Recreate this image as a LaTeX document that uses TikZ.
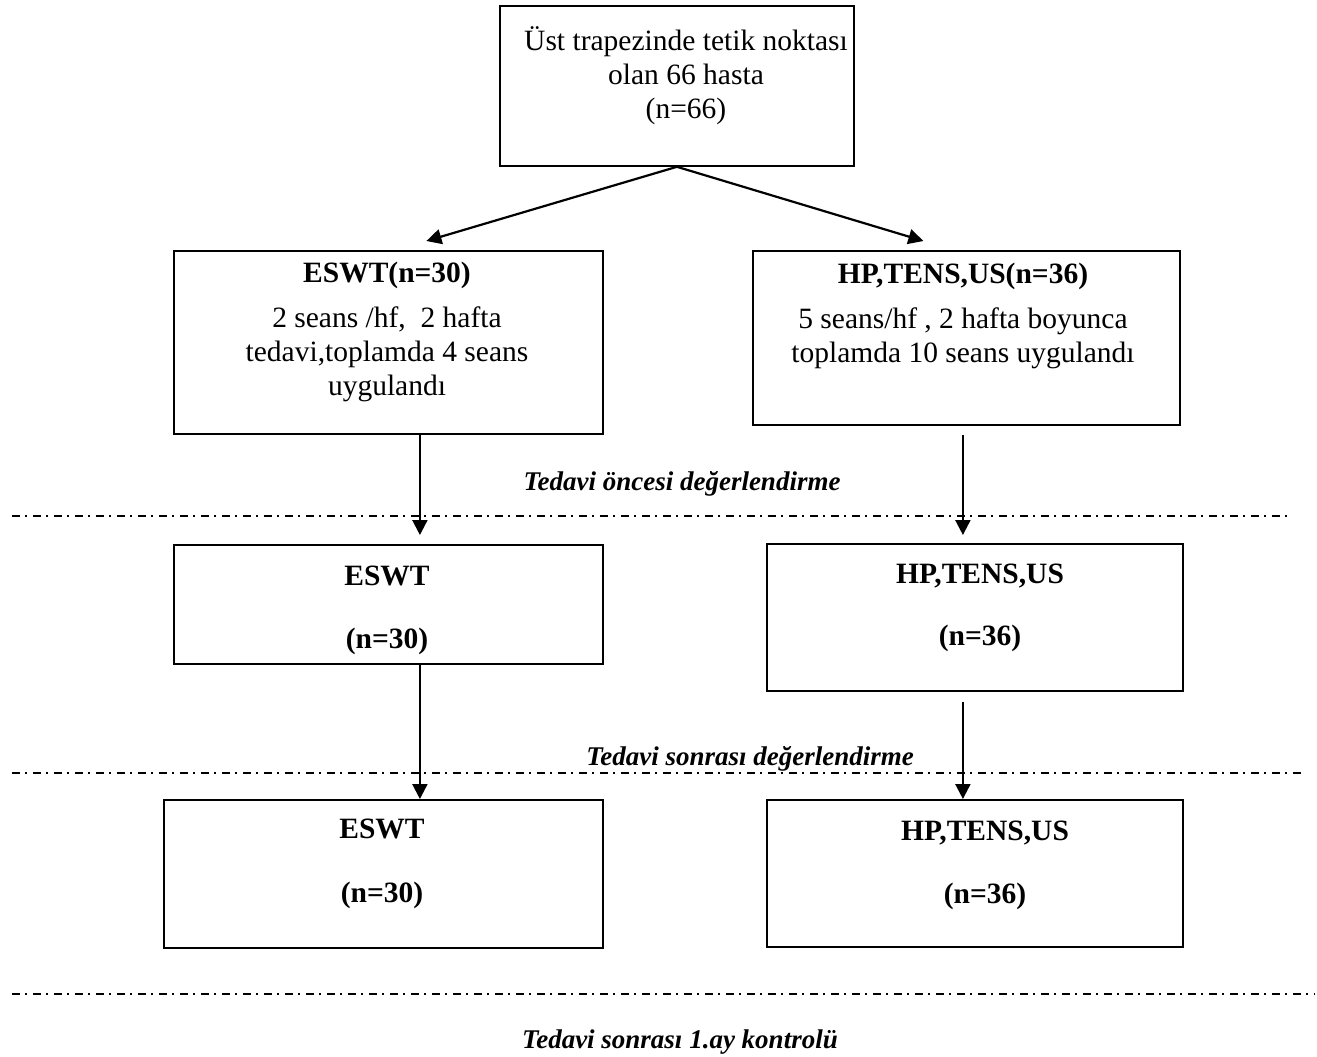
\documentclass[tikz,border=0pt]{standalone}
\usepackage{fontspec}
\setmainfont{Liberation Serif}
\usetikzlibrary{positioning}
\usetikzlibrary{arrows.meta}
\tikzstyle{box} = [draw, rectangle, line width=1.8pt, anchor=north west, inner sep=0pt]
\tikzstyle{boxtext} = [align=center, inner sep=0pt, anchor=base, font=\fontsize{29.5}{34}\selectfont]
\tikzstyle{titletext} = [boxtext, font=\fontsize{29.5}{34}\selectfont\bfseries]
\tikzstyle{phase} = [inner sep=0pt, anchor=base, font=\fontsize{27}{31}\selectfont\bfseries\itshape]
\tikzstyle{sep} = [line width=1.5pt, dash pattern=on 8pt off 5pt on 2pt off 6pt]
\tikzstyle{flow} = [line width=2.2pt, -{Triangle[length=15pt,width=15pt]}]

\begin{document}
\begin{tikzpicture}[x=1pt, y=-1pt]
  \useasboundingbox (0,0) rectangle (1317,1057);

  \node[box, minimum width=354pt, minimum height=160pt] (top) at (499,5) {};
  \node[box, minimum width=429pt, minimum height=183pt] (eswtA) at (173,250) {};
  \node[box, minimum width=427pt, minimum height=174pt] (hpA) at (752,250) {};
  \node[box, minimum width=429pt, minimum height=119pt] (eswtB) at (173,544) {};
  \node[box, minimum width=416pt, minimum height=147pt] (hpB) at (766,543) {};
  \node[box, minimum width=439pt, minimum height=148pt] (eswtC) at (163,799) {};
  \node[box, minimum width=416pt, minimum height=147pt] (hpC) at (766,799) {};

  % base = last line
  \node[boxtext] (topT) at (686,118) {Üst trapezinde tetik noktası\\olan 66 hasta\\(n=66)};
  \node[boxtext] (eswtAT) at (387,395) {\textbf{ESWT(n=30)}\\[11pt]2 seans /hf,\ \ 2 hafta\\tedavi,toplamda 4 seans\\uygulandı};
  \node[boxtext] (hpAT) at (963,362) {\textbf{HP,TENS,US(n=36)}\\[11pt]5 seans/hf , 2 hafta boyunca\\toplamda 10 seans uygulandı};
  \node[titletext] (eswtBT) at (387,648) {ESWT\\[29pt](n=30)};
  \node[titletext] (hpBT) at (980,645) {HP,TENS,US\\[28pt](n=36)};
  \node[titletext] (eswtCT) at (382,902) {ESWT\\[30pt](n=30)};
  \node[titletext] (hpCT) at (985,903) {HP,TENS,US\\[29pt](n=36)};

  \draw[sep] (12,516) -- (1290,516);
  \draw[sep] (12,773) -- (1305,773);
  \draw[sep] (12,994) -- (1315,994);

  \node[phase] (pre) at (682,490) {Tedavi öncesi değerlendirme};
  \node[phase] (post) at (750,765) {Tedavi sonrası değerlendirme};
  \node[phase] (ctrl) at (680,1048) {Tedavi sonrası 1.ay kontrolü};

  \draw[flow] (top.south) -- ([xshift=38pt,yshift=9pt]eswtA.north);
  \draw[flow] (top.south) -- ([xshift=-43pt,yshift=9pt]hpA.north);
  \draw[flow] ([xshift=31.5pt]eswtA.south) -- ([xshift=31.5pt,yshift=9pt]eswtB.north);
  \draw[flow] ([xshift=-3.5pt,yshift=-9pt]hpA.south) -- ([xshift=-12pt,yshift=8pt]hpB.north);
  \draw[flow] ([xshift=31.5pt]eswtB.south) -- ([xshift=36.5pt]eswtC.north);
  \draw[flow] ([xshift=-12pt,yshift=-10pt]hpB.south) -- ([xshift=-12pt]hpC.north);
\end{tikzpicture}
\end{document}
